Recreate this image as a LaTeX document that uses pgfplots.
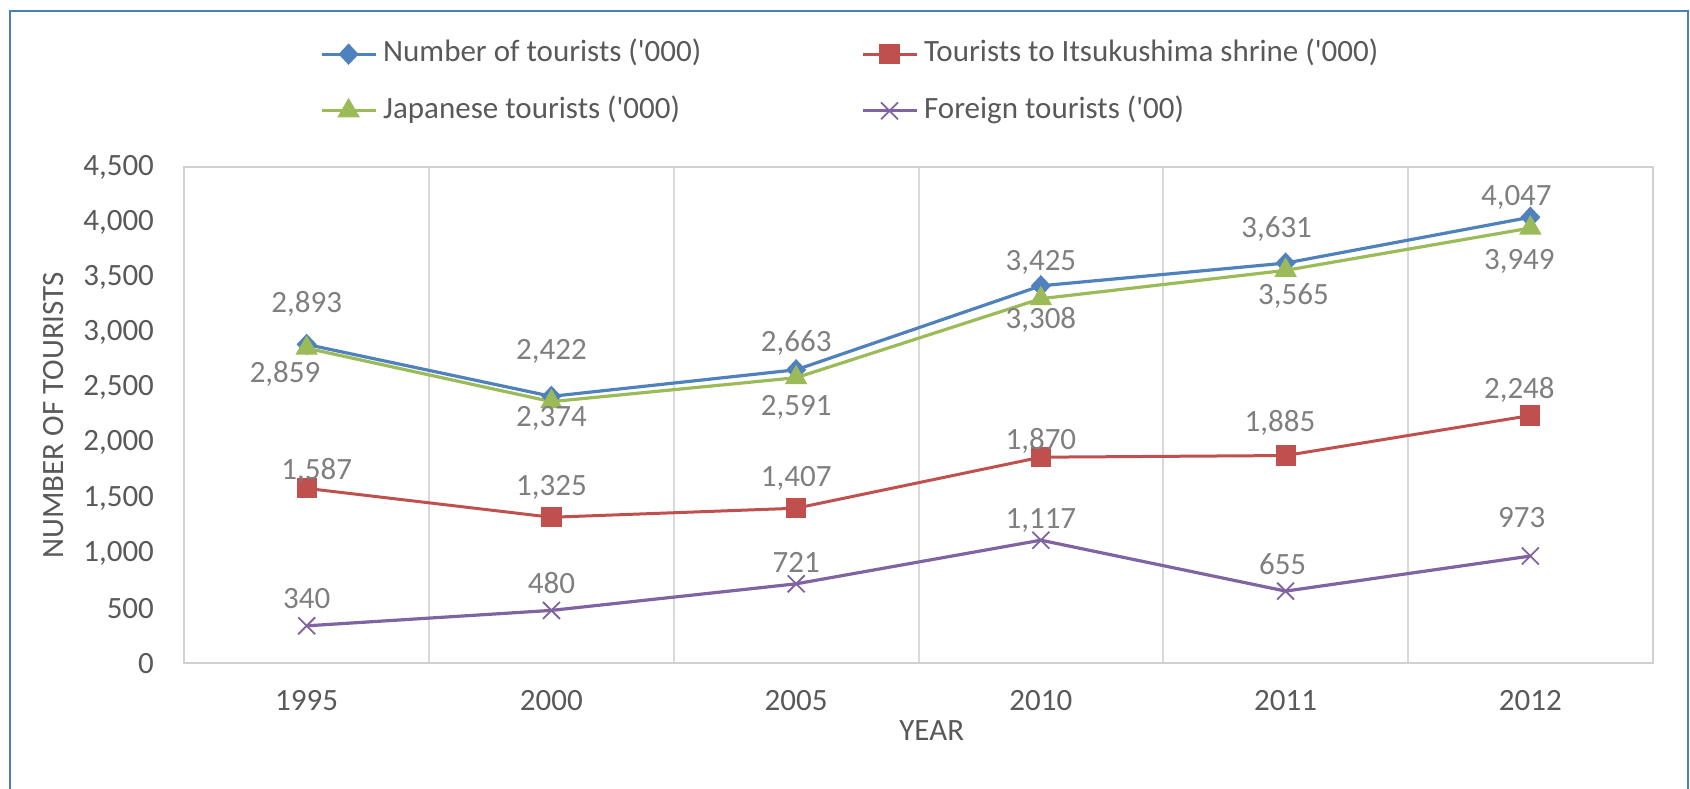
\documentclass[border=0pt]{standalone}
\usepackage{pgfplots}
\pgfplotsset{compat=1.18}
\usepackage{pgfplotstable}
\usepackage{fontspec}
\setmainfont{Carlito}
\definecolor{cblue}{HTML}{4F81BD}
\definecolor{cred}{HTML}{C0504D}
\definecolor{cgreen}{HTML}{9BBB59}
\definecolor{cpurple}{HTML}{8064A2}
\definecolor{tickgray}{HTML}{595959}
\definecolor{labgray}{HTML}{7F7F7F}
\definecolor{gridgray}{HTML}{D9D9D9}
\definecolor{framegray}{HTML}{D0D0D0}
\definecolor{borderblue}{HTML}{4A7EBB}

\pgfplotstableread{
x y lab dx dy
0 2893 2,893 0 20.2
1 2422 2,422 0 22.5
2 2663 2,663 0 13.5
3 3425 3,425 0 11.9
4 3631 3,631 -4.5 16.9
5 4047 4,047 -7 10
}\tblue
\pgfplotstableread{
x y lab dx dy
0 1587 1,587 5 8.9
1 1325 1,325 0 15
2 1407 1,407 0 14.8
3 1870 1,870 0 8.2
4 1885 1,885 -2.8 16.2
5 2248 2,248 -5.5 12.8
}\tred
\pgfplotstableread{
x y lab dx dy
0 2859 2,859 -10.8 -13
1 2374 2,374 0 -8.3
2 2591 2,591 0 -14.9
3 3308 3,308 0 -10.7
4 3565 3,565 3.9 -13
5 3949 3,949 -5.5 -16.7
}\tgreen
\pgfplotstableread{
x y lab dx dy
0 340 340 0 13.7
1 480 480 0 13.6
2 721 721 0 10.6
3 1117 1,117 0 9.8
4 655 655 -1.5 13.4
5 973 973 -4.3 19.1
}\tpurple

\newcommand{\cf}{\fontsize{15.5}{18.6}\selectfont}
\newcommand{\q}{\textquotesingle}

\pgfplotsset{
  lbl/.style={
    point meta=explicit symbolic,
    nodes near coords={\pgfplotspointmeta},
    visualization depends on={\thisrow{dx} \as \mydx},
    visualization depends on={\thisrow{dy} \as \mydy},
    every node near coord/.append style={anchor=center, xshift=\mydx pt, yshift=\mydy pt, text=labgray, font=\cf, inner sep=0pt},
  }
}

\begin{document}
\begin{tikzpicture}
\begin{axis}[
  at={(92.15pt,62.35pt)}, anchor=south west,
  scale only axis, width=734.2pt, height=248pt,
  xmin=-0.5, xmax=5.5, ymin=0, ymax=4500,
  xtick={0,...,5}, xticklabels={1995,2000,2005,2010,2011,2012},
  ytick={0,500,...,4500},
  minor xtick={0.5,1.5,2.5,3.5,4.5},
  xminorgrids, minor x grid style={gridgray, line width=1pt},
  major tick length=0pt, minor tick length=0pt,
  axis line style={framegray, line width=1pt},
  tick label style={font=\cf, text=tickgray, inner sep=0pt},
  /pgf/number format/.cd, 1000 sep={,}, assume math mode=true, /pgfplots/.cd,
  yticklabel shift=15pt, xticklabel shift=13.5pt,
  xlabel={YEAR}, ylabel={NUMBER OF TOURISTS},
  every axis x label/.style={at={(axis description cs:0.509,-0.1359)}, anchor=center, font=\cf, text=tickgray},
  every axis y label/.style={at={(axis description cs:-0.0892,0.5)}, anchor=center, rotate=90, font=\cf, text=tickgray},
  legend columns=2,
  legend cell align=left,
  legend style={at={(axis description cs:0.0924,1.2573)}, anchor=north west,
    draw=none, fill=none, inner sep=0pt, outer sep=0pt,
    font=\cf, text=tickgray, row sep=13.8pt,
    nodes={inner sep=0pt, text height=11pt, text depth=3.5pt},
    /tikz/every odd column/.append style={column sep=3pt},
    /tikz/every even column/.append style={column sep=79.8pt}},
  legend image code/.code={\draw[mark repeat=2, mark phase=2, #1] plot coordinates {(0pt,0pt) (13.5pt,0pt) (27pt,0pt)};},
]
\addplot[cblue, line width=1.6pt, mark=diamond*, mark size=4.2pt, mark options={solid, fill=cblue, xscale=1.25}, lbl]
  table[x=x, y=y, meta=lab] {\tblue};
\addlegendentry{Number of tourists (\q000)}
\addplot[cred, line width=1.5pt, mark=square*, mark size=4.3pt, mark options={solid, fill=cred}, lbl]
  table[x=x, y=y, meta=lab] {\tred};
\addlegendentry{Tourists to Itsukushima shrine (\q000)}
\addplot[cgreen, line width=1.6pt, mark=triangle*, mark size=4.9pt, mark options={solid, fill=cgreen}, lbl]
  table[x=x, y=y, meta=lab] {\tgreen};
\addlegendentry{Japanese tourists (\q000)}
\addplot[cpurple, line width=1.6pt, mark=x, mark size=6pt, mark options={solid, line width=0.9pt}, lbl]
  table[x=x, y=y, meta=lab] {\tpurple};
\addlegendentry{Foreign tourists (\q00)}
\end{axis}
\draw[borderblue, line width=1pt] (5pt,-3pt) -- (5pt,388.25pt) -- (844pt,388.25pt) -- (844pt,-3pt);
\pgfresetboundingbox
\path[use as bounding box] (0,0) rectangle (845pt,394pt);
\end{tikzpicture}
\end{document}
